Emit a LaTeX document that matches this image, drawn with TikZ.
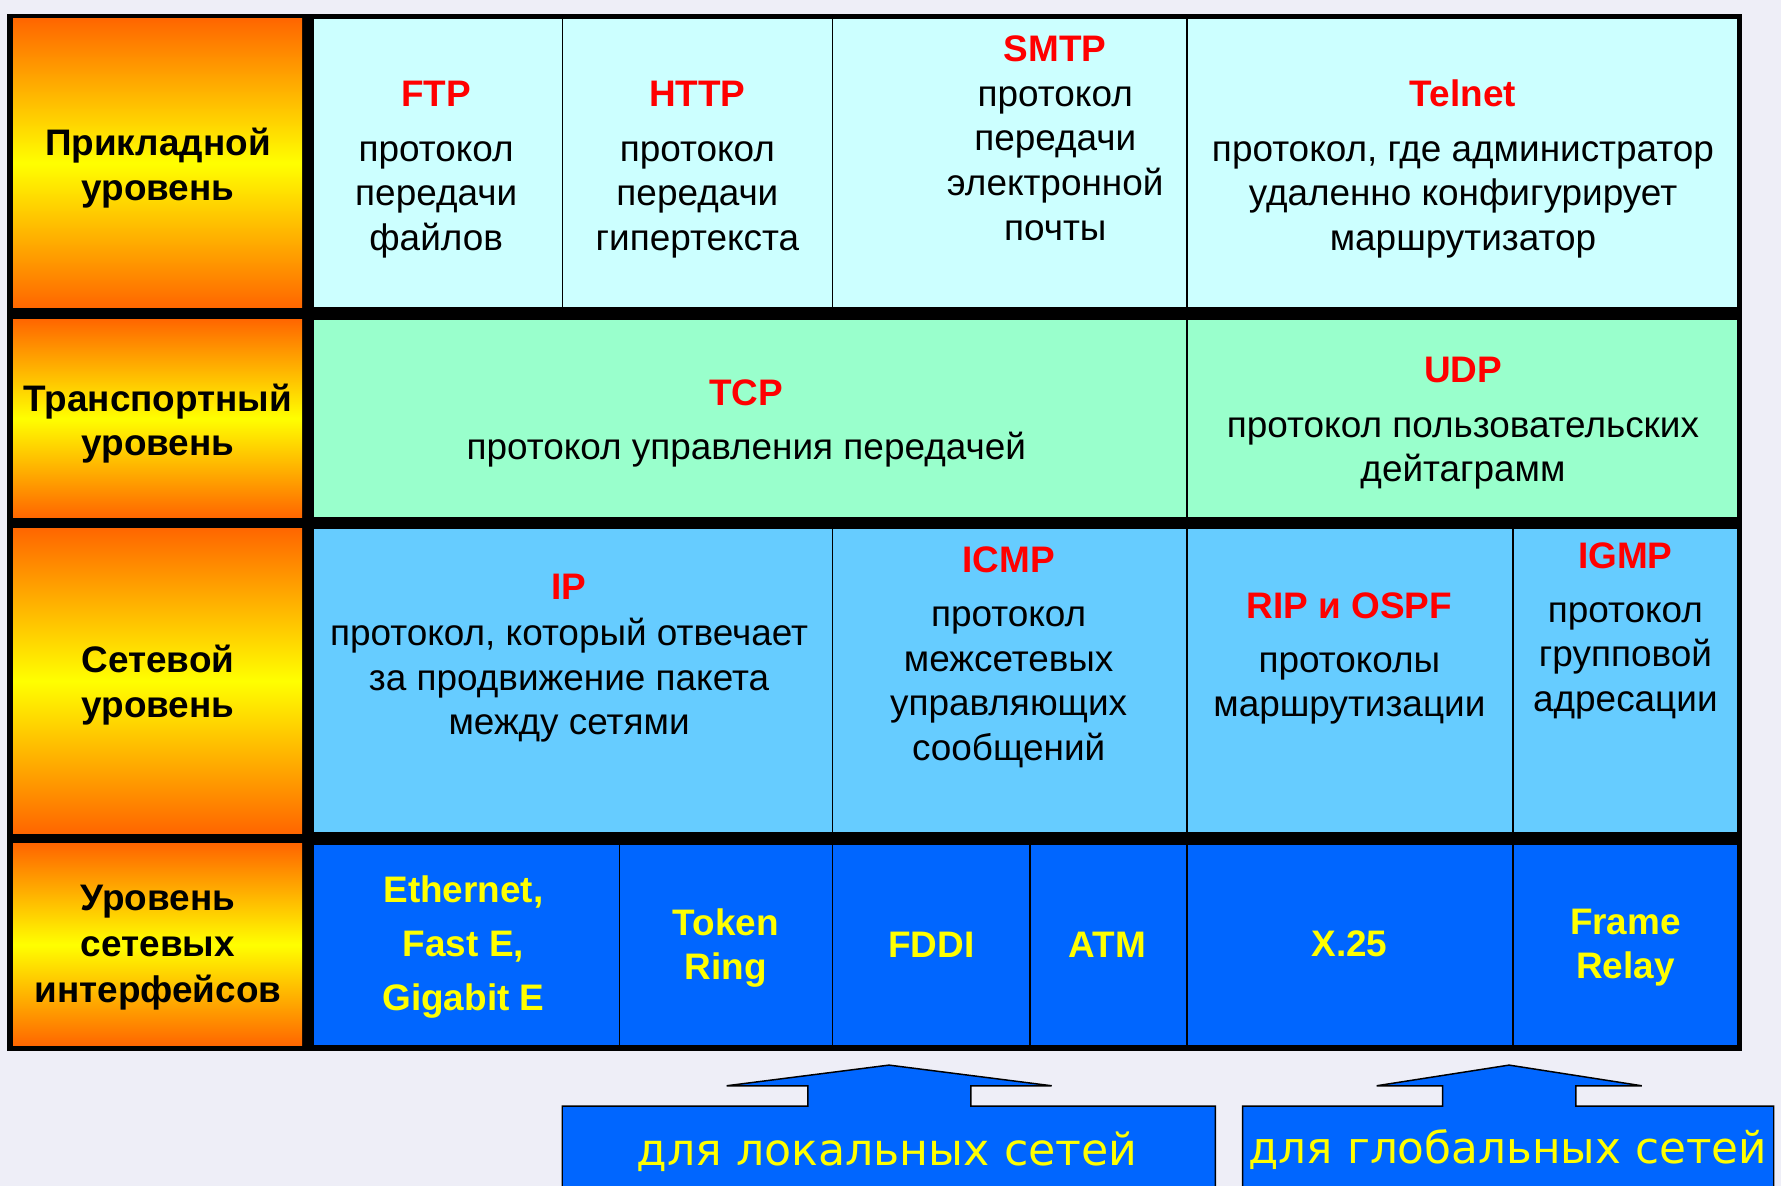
\documentclass[tikz,border=0pt]{standalone}
\usepackage{fontspec}
\setmainfont{Liberation Sans}
\newfontfamily\vera{DejaVu Sans}

\definecolor{pagebg}{RGB}{238,238,247}
\definecolor{lblOrange}{RGB}{255,102,0}
\definecolor{lblYellow}{RGB}{255,255,0}
\definecolor{rowApp}{RGB}{204,255,255}
\definecolor{rowTr}{RGB}{153,255,204}
\definecolor{rowNet}{RGB}{102,204,255}
\definecolor{rowLink}{RGB}{0,102,255}
\definecolor{ttlRed}{RGB}{255,0,0}
\definecolor{ylw}{RGB}{255,255,0}

\newcommand\mytxt{\fontsize{32.5}{39.3}\selectfont}
\newcommand\stk[1]{\begin{tabular}[t]{@{}c@{}}#1\end{tabular}}
\newcommand\ttl[1]{\textcolor{ttlRed}{\bfseries #1}}

\tikzset{
  lblcell/.style={top color=lblOrange, bottom color=lblOrange, middle color=lblYellow, draw=none},
  appcell/.style={fill=rowApp, draw=black, line width=1.3pt},
  trcell/.style={fill=rowTr, draw=black, line width=1.3pt},
  netcell/.style={fill=rowNet, draw=black, line width=1.3pt},
  linkcell/.style={fill=rowLink, draw=black, line width=1.3pt},
  txt/.style={anchor=base, inner sep=0pt, font=\mytxt},
  lbl/.style={txt, font=\mytxt\bfseries},
  linktxt/.style={txt, font=\mytxt\bfseries, text=ylw},
  callout/.style={fill=rowLink, draw=black, line width=1.3pt, line join=miter},
  callouttxt/.style={anchor=base, inner sep=0pt, text=ylw},
}

\begin{document}
\begin{tikzpicture}[x=1pt, y=-1pt]
  % page
  \useasboundingbox (0,0) rectangle (1568,1044);
  \fill[pagebg] (0,0) rectangle (1568,1044);

  % black frame of the table
  \fill[black] (6.5,12) rectangle (1534,925.5);

  % layer labels column
  \path[lblcell] (11.5,16.5) rectangle (266,271);
  \path[lblcell] (11.5,281) rectangle (266,455.5);
  \path[lblcell] (11.5,465) rectangle (266,733.5);
  \path[lblcell] (11.5,743) rectangle (266,920.5);

  % application layer
  \path[appcell] (275.5,16.5) rectangle (495,271);
  \path[appcell] (495,16.5) rectangle (733,271);
  \path[appcell] (733,16.5) rectangle (1045,271);
  \path[appcell] (1045,16.5) rectangle (1529.5,271);

  % transport layer
  \path[trcell] (275.5,281) rectangle (1045,455.5);
  \path[trcell] (1045,281) rectangle (1529.5,455.5);

  % network layer
  \path[netcell] (275.5,465) rectangle (733,733.5);
  \path[netcell] (733,465) rectangle (1045,733.5);
  \path[netcell] (1045,465) rectangle (1332,733.5);
  \path[netcell] (1332,465) rectangle (1529.5,733.5);

  % network interface layer
  \path[linkcell] (275.5,743) rectangle (545.5,920.5);
  \path[linkcell] (545.5,743) rectangle (733,920.5);
  \path[linkcell] (733,743) rectangle (907,920.5);
  \path[linkcell] (907,743) rectangle (1045,920.5);
  \path[linkcell] (1045,743) rectangle (1332,920.5);
  \path[linkcell] (1332,743) rectangle (1529.5,920.5);

  % labels
  \node[lbl] (lapp)  at (139,137.3) {\stk{Прикладной\\уровень}};
  \node[lbl] (ltr)   at (139,362)   {\stk{Транспортный\\уровень}};
  \node[lbl] (lnet)  at (139,592)   {\stk{Сетевой\\уровень}};
  \node[lbl] (llink) at (139,801.8) {\stk{Уровень\\[1.2pt]сетевых\\[1.2pt]интерфейсов}};

  % application protocols
  \node[txt] (ftp)    at (384,94)    {\stk{\ttl{FTP}\\[8.7pt]протокол\\передачи\\файлов}};
  \node[txt] (http)   at (614,94)    {\stk{\ttl{HTTP}\\[8.7pt]протокол\\передачи\\гипертекста}};
  \node[txt] (smtp)   at (929,54.3)  {\stk{\ttl{SMTP}\\протокол\\передачи\\электронной\\почты}};
  \node[txt] (telnet) at (1288,94)   {\stk{\ttl{Telnet}\\[8.7pt]протокол, где администратор\\удаленно конфигурирует\\маршрутизатор}};

  % transport protocols
  \node[txt] (tcp) at (657,356.6) {\stk{\ttl{TCP}\\[9pt]протокол управления передачей}};
  \node[txt] (udp) at (1288,337)  {\stk{\ttl{UDP}\\[8.7pt]протокол пользовательских\\дейтаграмм}};

  % network protocols
  \node[txt] (ip)   at (501,528)    {\stk{\ttl{IP}\\[1pt]протокол, который отвечает\\за продвижение пакета\\между сетями}};
  \node[txt] (icmp) at (888,504.2)  {\stk{\ttl{ICMP}\\[8pt]протокол\\межсетевых\\управляющих\\сообщений}};
  \node[txt] (rip)  at (1188,544.4) {\stk{\ttl{RIP и OSPF}\\[8pt]протоколы\\маршрутизации}};
  \node[txt] (igmp) at (1431,500.4) {\stk{\ttl{IGMP}\\[8pt]протокол\\групповой\\адресации}};

  % network interface technologies
  \node[linktxt] (eth)  at (408,794.7)  {\stk{Ethernet,\\[8.2pt]Fast E,\\[8.2pt]Gigabit E}};
  \node[linktxt] (tok)  at (639,823.2)  {\stk{Token\\Ring}};
  \node[linktxt] (fddi) at (820,842.7)  {FDDI};
  \node[linktxt] (atm)  at (975,842.7)  {ATM};
  \node[linktxt] (x25)  at (1188,842.5) {X.25};
  \node[linktxt] (fr)   at (1431,822.6) {\stk{Frame\\Relay}};

  % arrow callouts under the table
  \path[callout] (495,1060) -- (495,973.8) -- (711.3,973.8) -- (711.3,955.9) -- (639.7,955.9)
     -- (782.7,937.7) -- (925.9,955.9) -- (854.7,955.9) -- (854.7,973.8) -- (1070,973.8)
     -- (1070,1060);
  \path[callout] (1094,1060) -- (1094,973.8) -- (1270,973.8) -- (1270,955.9) -- (1212,955.9)
     -- (1328.6,937.7) -- (1445.4,955.9) -- (1387.4,955.9) -- (1387.4,973.8) -- (1561.6,973.8)
     -- (1561.6,1060);
  \node[callouttxt, font=\vera\fontsize{39}{46}\selectfont] (local) at (781,1025.7) {для локальных сетей};
  \node[callouttxt, font=\vera\fontsize{38.5}{46}\selectfont] (global) at (1327.5,1024) {для глобальных сетей};
\end{tikzpicture}
\end{document}
